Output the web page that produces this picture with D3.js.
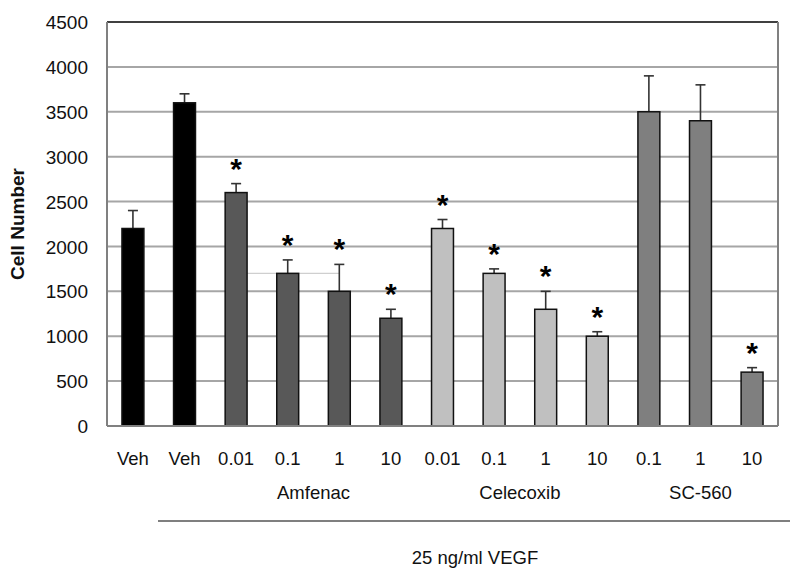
<!DOCTYPE html>
<html><head><meta charset="utf-8">
<script src="https://cdn.jsdelivr.net/npm/d3@7"></script>
<style>body{margin:0;background:#fff;}svg{display:block;font-family:"Liberation Sans",Arial,sans-serif;}</style>
</head><body><svg id="c" width="800" height="585"></svg>
<script>
const categories = ["Veh","Veh","0.01","0.1","1","10","0.01","0.1","1","10","0.1","1","10"];
const groups = ["veh","veh","amf","amf","amf","amf","cel","cel","cel","cel","sc","sc","sc"];
const values = [2200,3600,2600,1700,1500,1200,2200,1700,1300,1000,3500,3400,600];
const errors = [200,100,100,150,300,100,100,50,200,50,400,400,50];
const stars = [0,0,1,1,1,1,1,1,1,1,0,0,1];
const groupLabels = [{name:"Amfenac", from:2, to:5},{name:"Celecoxib", from:6, to:9},{name:"SC-560", from:10, to:12}];
const yTicks = [0,500,1000,1500,2000,2500,3000,3500,4000,4500];
const colors = {veh:"#000000", amf:"#585858", cel:"#c0c0c0", sc:"#7f7f7f"};

const svg = d3.select("#c");
const L=107, R=778, T=22, B=426;
const FF = "Liberation Sans, Arial, sans-serif";
const x = d3.scaleBand().domain(d3.range(categories.length)).range([L,R]).paddingInner(0.575).paddingOuter(0.29);
const y = d3.scaleLinear().domain([0,4500]).range([B,T]);

// gridlines
svg.append("g").selectAll("line").data(yTicks.slice(1,-1)).join("line")
  .attr("x1",L).attr("x2",R).attr("y1",d=>y(d)).attr("y2",d=>y(d))
  .attr("stroke","#a6a6a6").attr("stroke-width",2);

// frame
svg.append("line").attr("x1",L).attr("x2",R).attr("y1",T).attr("y2",T).attr("stroke","#404040").attr("stroke-width",2);
svg.append("line").attr("x1",L).attr("x2",L).attr("y1",T).attr("y2",B).attr("stroke","#808080").attr("stroke-width",2);
svg.append("line").attr("x1",R).attr("x2",R).attr("y1",T).attr("y2",B).attr("stroke","#808080").attr("stroke-width",2);

// faint artifact line
svg.append("line").attr("x1",x(2)+x.bandwidth()).attr("x2",x(4)+x.bandwidth()/2)
  .attr("y1",y(1700)).attr("y2",y(1700)).attr("stroke","#cfcfcf").attr("stroke-width",1.2);

// error bars
const eg = svg.append("g").attr("stroke","#333").attr("stroke-width",1.6);
values.forEach((v,i)=>{
  const cx = x(i)+x.bandwidth()/2;
  eg.append("line").attr("x1",cx).attr("x2",cx).attr("y1",y(v)).attr("y2",y(v+errors[i]));
  eg.append("line").attr("x1",cx-5).attr("x2",cx+5).attr("y1",y(v+errors[i])).attr("y2",y(v+errors[i]));
});

// bars
svg.append("g").selectAll("rect").data(values).join("rect")
  .attr("x",(d,i)=>x(i)).attr("width",x.bandwidth())
  .attr("y",d=>y(d)).attr("height",d=>B-y(d))
  .attr("fill",(d,i)=>colors[groups[i]]).attr("stroke","#111").attr("stroke-width",1.5);

// bottom axis line
svg.append("line").attr("x1",L).attr("x2",R).attr("y1",B).attr("y2",B).attr("stroke","#808080").attr("stroke-width",2);

// stars
svg.append("g").selectAll("text").data(values.map((v,i)=>({v,i})).filter(d=>stars[d.i])).join("text")
  .attr("x",d=>x(d.i)+x.bandwidth()/2).attr("y",d=>y(d.v+errors[d.i])-5)
  .attr("text-anchor","middle").attr("font-size",30).attr("font-weight","bold").attr("fill","#000").text("*");

// y axis labels
const yAxis = d3.axisLeft(y).tickValues(yTicks).tickFormat(d3.format("d")).tickSize(0).tickPadding(0);
const ga = svg.append("g").attr("transform",`translate(${L-19},0)`).call(yAxis);
ga.select(".domain").remove();
ga.selectAll("text").attr("font-size",19).attr("fill","#111").attr("font-family",FF).attr("dy","0.35em");

// x labels
const xAxis = d3.axisBottom(x).tickFormat(i=>categories[i]).tickSize(0).tickPadding(0);
const gx = svg.append("g").attr("transform",`translate(0,${B+26})`).call(xAxis);
gx.select(".domain").remove();
gx.selectAll("text").attr("font-size",18.5).attr("fill","#111").attr("font-family",FF).attr("dy","0.71em");

// group labels
svg.append("g").selectAll("text").data(groupLabels).join("text")
  .attr("x",d=>(x(d.from)+x(d.to)+x.bandwidth())/2).attr("y",499)
  .attr("text-anchor","middle").attr("font-size",18.5).attr("fill","#111").text(d=>d.name);

svg.append("line").attr("x1",158).attr("x2",790).attr("y1",521).attr("y2",521).attr("stroke","#555").attr("stroke-width",1.5);
svg.append("text").attr("x",475).attr("y",564).attr("text-anchor","middle").attr("font-size",18.5).attr("fill","#111").text("25 ng/ml VEGF");

svg.append("text").attr("transform","translate(24,224) rotate(-90)").attr("text-anchor","middle")
  .attr("font-size",19).attr("font-weight","bold").attr("fill","#111").text("Cell Number");
</script></body></html>
